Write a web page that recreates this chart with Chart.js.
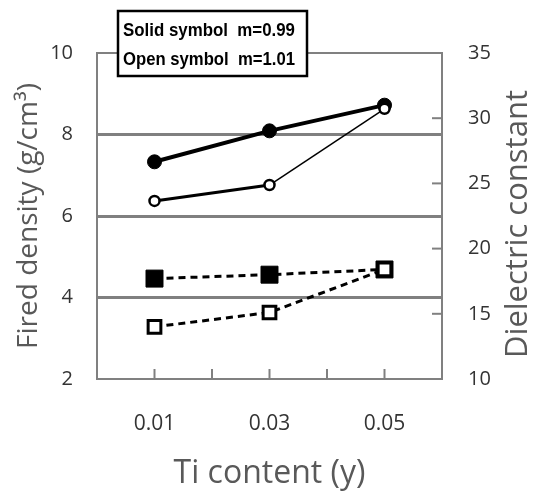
<!DOCTYPE html>
<html lang="en">
<head>
    <meta charset="UTF-8">
    <title>Fired density and dielectric constant vs Ti content</title>
    <style>
        body {
            margin: 0;
            background-color: #ffffff;
        }
        #chartBox {
            width: 549px;
            height: 492px;
        }
    </style>
    <script src="https://cdn.jsdelivr.net/npm/chart.js"></script>
</head>
<body>
    <div id="chartBox">
        <canvas id="densityChart" width="549" height="492"></canvas>
    </div>

    <script>
        // values
        var tiContent = [0.01, 0.03, 0.05];
        var xTickLabels = ['0.01', '0.03', '0.05'];
        var densitySolid = [7.33, 8.09, 8.72];
        var densityOpen = [6.37, 6.76, 8.63];
        var dielectricSolid = [17.7, 18.0, 18.4];
        var dielectricOpen = [14.0, 15.1, 18.4];
        var legendLines = ['Solid symbol  m=0.99', 'Open symbol  m=1.01'];
        var rightTitle = 'Dielectric constant';

        var axisGray = '#808080';
        var textGray = '#333333';
        var titleGray = '#595959';

        function toPoints(values) {
            return values.map(function (v, i) { return { x: tiContent[i], y: v }; });
        }

        // inner tick marks, right axis title (reads bottom to top) and the symbol box
        var extrasPlugin = {
            id: 'extras',
            afterDraw: function (chart) {
                var ctx = chart.ctx;
                var area = chart.chartArea;
                var xs = chart.scales.x;
                var yr = chart.scales.yRight;
                ctx.save();
                ctx.strokeStyle = axisGray;
                ctx.lineWidth = 2;
                xs.ticks.forEach(function (t) {
                    if (t.value <= 0.001 || t.value >= 0.059) return;
                    var px = xs.getPixelForValue(t.value);
                    ctx.beginPath();
                    ctx.moveTo(px, area.bottom);
                    ctx.lineTo(px, area.bottom - 10);
                    ctx.stroke();
                });
                yr.ticks.forEach(function (t) {
                    if (t.value <= 10 || t.value >= 35) return;
                    var py = yr.getPixelForValue(t.value);
                    ctx.beginPath();
                    ctx.moveTo(area.right, py);
                    ctx.lineTo(area.right - 10, py);
                    ctx.stroke();
                });

                ctx.save();
                ctx.translate(518, (area.top + area.bottom) / 2 + 8);
                ctx.rotate(-Math.PI / 2);
                ctx.fillStyle = titleGray;
                ctx.font = '31px "Open Sans"';
                ctx.textAlign = 'center';
                ctx.textBaseline = 'middle';
                ctx.fillText(rightTitle, 0, 0);
                ctx.restore();

                // legend box
                ctx.fillStyle = '#ffffff';
                ctx.fillRect(118, 11, 189, 65);
                ctx.strokeStyle = '#000000';
                ctx.lineWidth = 2.5;
                ctx.strokeRect(118, 11, 189, 65);
                ctx.fillStyle = '#000000';
                ctx.font = 'bold 18px "Liberation Sans", Arial, sans-serif';
                ctx.textBaseline = 'alphabetic';
                ctx.textAlign = 'left';
                legendLines.forEach(function (line, i) {
                    var w = ctx.measureText(line).width;
                    var target = i === 0 ? 172 : 172;
                    ctx.save();
                    ctx.translate(123, i === 0 ? 36 : 65);
                    ctx.scale(target / w, 1);
                    ctx.fillText(line, 0, 0);
                    ctx.restore();
                });
                ctx.restore();
            }
        };

        var ctx = document.getElementById('densityChart').getContext('2d');
        new Chart(ctx, {
            type: 'line',
            data: {
                datasets: [{
                    label: 'Open circle',
                    data: toPoints(densityOpen),
                    yAxisID: 'y',
                    borderColor: '#000000',
                    borderWidth: 2,
                    segment: {
                        borderWidth: function (c) { return c.p0DataIndex === 0 ? 3 : 1.5; }
                    },
                    pointStyle: 'circle',
                    pointRadius: 5,
                    pointBorderWidth: 2.5,
                    pointBackgroundColor: '#ffffff',
                    pointBorderColor: '#000000',
                    tension: 0
                }, {
                    label: 'Open square',
                    data: toPoints(dielectricOpen),
                    yAxisID: 'yRight',
                    borderColor: '#000000',
                    borderWidth: 3,
                    borderDash: [7, 5],
                    pointStyle: 'rect',
                    pointRadius: 9,
                    pointBorderWidth: 3,
                    pointBackgroundColor: '#ffffff',
                    pointBorderColor: '#000000',
                    tension: 0
                }, {
                    label: 'Solid circle',
                    data: toPoints(densitySolid),
                    yAxisID: 'y',
                    borderColor: '#000000',
                    borderWidth: 4,
                    pointStyle: 'circle',
                    pointRadius: 7,
                    pointBorderWidth: 1,
                    pointBackgroundColor: '#000000',
                    pointBorderColor: '#000000',
                    tension: 0
                }, {
                    label: 'Solid square',
                    data: toPoints(dielectricSolid),
                    yAxisID: 'yRight',
                    borderColor: '#000000',
                    borderWidth: 3,
                    borderDash: [7, 5],
                    pointStyle: 'rect',
                    pointRadius: 12,
                    pointBorderWidth: 1,
                    pointBackgroundColor: '#000000',
                    pointBorderColor: '#000000',
                    tension: 0
                }]
            },
            options: {
                responsive: false,
                animation: false,
                devicePixelRatio: 1,
                layout: { padding: { top: 53, left: 0, right: 0, bottom: 0 } },
                plugins: {
                    legend: { display: false },
                    tooltip: { enabled: false }
                },
                scales: {
                    x: {
                        type: 'linear',
                        min: 0,
                        max: 0.06,
                        afterFit: function (s) { s.height = 113; },
                        ticks: {
                            stepSize: 0.01,
                            autoSkip: false,
                            maxRotation: 0,
                            padding: 32,
                            color: textGray,
                            font: { family: 'Open Sans', size: 21 },
                            callback: function (v) {
                                var s = Number(v).toFixed(2);
                                return xTickLabels.indexOf(s) >= 0 ? s : '';
                            }
                        },
                        grid: { display: false, drawTicks: false },
                        border: { display: true, color: axisGray, width: 2 },
                        title: {
                            display: true,
                            text: 'Ti content (y)',
                            color: titleGray,
                            font: { family: 'Open Sans', size: 32 },
                            padding: { top: 0, bottom: -1 }
                        }
                    },
                    y: {
                        position: 'left',
                        min: 2,
                        max: 10,
                        afterFit: function (s) { s.width = 97; },
                        ticks: {
                            stepSize: 2,
                            padding: 24,
                            color: textGray,
                            font: { family: 'Open Sans', size: 20 }
                        },
                        grid: {
                            drawTicks: false,
                            color: axisGray,
                            lineWidth: function (c) {
                                var v = c.tick ? c.tick.value : 0;
                                if (v === 4 || v === 6 || v === 8) return 3;
                                if (v === 10) return 2;
                                return 0;
                            }
                        },
                        border: { display: true, color: axisGray, width: 2 },
                        title: {
                            display: true,
                            text: 'Fired density (g/cm\u00b3)',
                            color: titleGray,
                            font: { family: 'Open Sans', size: 28 },
                            padding: { top: 12, bottom: 0 }
                        }
                    },
                    yRight: {
                        position: 'right',
                        min: 10,
                        max: 35,
                        afterFit: function (s) { s.width = 107; },
                        ticks: {
                            stepSize: 5,
                            padding: 26,
                            color: textGray,
                            font: { family: 'Open Sans', size: 20 }
                        },
                        grid: { drawOnChartArea: false, drawTicks: false },
                        border: { display: true, color: axisGray, width: 2 }
                    }
                }
            },
            plugins: [extrasPlugin]
        });
    </script>
</body>
</html>
